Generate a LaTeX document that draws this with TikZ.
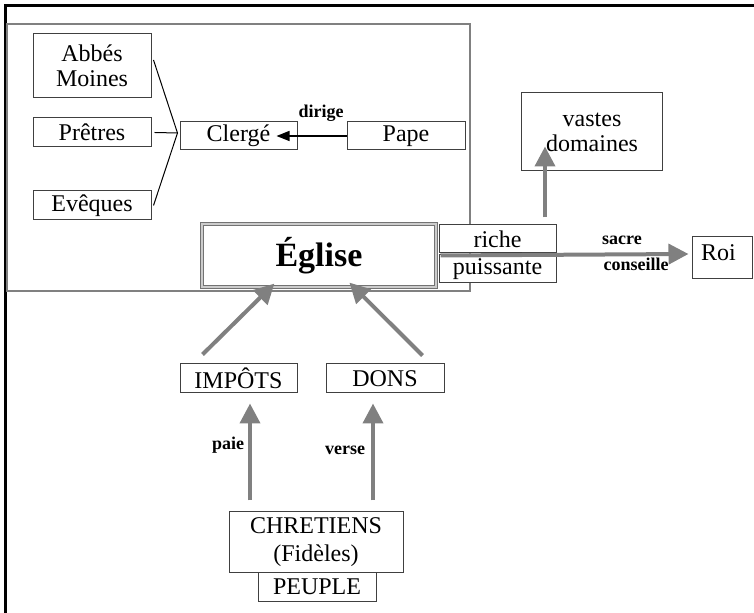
\documentclass[tikz,border=0pt]{standalone}
\usepackage{fontspec}
\setmainfont{Liberation Serif}
\usetikzlibrary{arrows.meta, positioning, calc}
\tikzstyle{box} = [rectangle, draw=black!75, line width=0.5pt, fill=white, inner sep=0pt, minimum width=59pt, minimum height=14.5pt, text centered, align=center, font=\fontsize{12}{12.5}\selectfont]
\tikzstyle{verb} = [font=\bfseries\fontsize{9}{10}\selectfont]
\tikzstyle{arrow} = [line width=0.75pt, -{Triangle[length=6.5pt,width=5pt]}]
\tikzstyle{bigarrow} = [draw=black!50, line width=2pt, -{Triangle[length=10pt,width=10pt]}, black!50]
\begin{document}
\begin{tikzpicture}[x=0.5pt, y=-0.5pt]
\useasboundingbox (0,0) rectangle (754,613);

% Frame
\draw [line width=1.5pt] (5,613) -- (5,6) -- (754,6);
\draw [draw=black!50, line width=1pt] (7,24) rectangle (470,291);

% Clergy
\node (abbes) [box, minimum height=32pt] at (92,66) {Abbés\\Moines};
\node (pretres) [box] at (92,132.5) {Prêtres};
\node (eveques) [box] at (92,205.5) {Evêques};
\node (clerge) [box, minimum width=58.5pt, minimum height=14pt] at (238.5,136) {Clergé};
\node (pape) [box, minimum height=14pt] at (406,136) {Pape};
\coordinate (fork) at ($(clerge.west)+(-2,-3)$);
\draw [line width=0.5pt] ($(abbes.east)+(2,-6)$) -- (fork) -- ($(eveques.east)+(2,0)$);
\draw [line width=0.5pt] ($(pretres.east)+(3,0)$) -- (fork);
\draw [arrow] (pape.west) -- ($(clerge.east)+(-21,0)$);
\node (dirige) [verb] at (321,113) {dirige};

% Church
\node (eglise) [box, minimum width=117pt, minimum height=31.5pt, draw=black!55, line width=0.6pt, double=black!20, double distance=0.6pt, font=\bfseries\fontsize{17}{18}\selectfont] at (319,255.5) {Église};
\node (riche) [box, minimum width=58.5pt, minimum height=14pt] at (497.5,239) {riche};
\node (puissante) [box, minimum width=58.5pt, minimum height=14pt] at (497.5,269) {puissante};
\node (domaines) [box, minimum width=70.5pt, minimum height=39pt] at (592,132) {vastes\\domaines};
\node (roi) [box, minimum width=30pt, minimum height=21pt, text width=21pt, align=left, text depth=5pt] at (722,258) {Roi};
\draw [bigarrow] ($(riche.north)+(47.5,-7)$) -- ($(domaines.south)+(-47,-25)$);
\draw [bigarrow] ($(riche.south west)+(2,2)$) -- ($(roi.west)+(-3,-4)$);
\node (sacre) [verb] at (622,240) {sacre};
\node (conseille) [verb] at (636,264) {conseille};

% People
\node (impots) [box, minimum width=58.5pt] at (238.5,378.5) {IMPÔTS};
\node (dons) [box] at (385,378.5) {DONS};
\node (chretiens) [box, minimum width=87pt, minimum height=30.5pt, font=\fontsize{12}{14}\selectfont] at (316,542.5) {CHRETIENS\\(Fidèles)};
\node (peuple) [box, minimum height=14pt] at (317,587) {PEUPLE};
\draw [bigarrow] ($(impots.north west)+(23,-9)$) -- ($(eglise.south west)+(73,-4)$);
\draw [bigarrow] ($(dons.north east)+(-22,-8)$) -- ($(eglise.south west)+(148,-5)$);
\draw [bigarrow] ($(chretiens.north)+(-66,-11)$) -- ($(impots.south)+(11.5,10)$);
\draw [bigarrow] ($(chretiens.north)+(57,-11)$) -- ($(dons.south)+(-12,10)$);
\node (paie) [verb] at (228,445) {paie};
\node (verse) [verb] at (345,450) {verse};

\end{tikzpicture}
\end{document}
